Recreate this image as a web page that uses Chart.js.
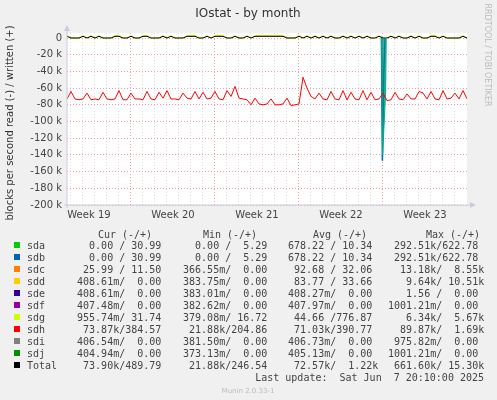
<!DOCTYPE html>
<html><head><meta charset="utf-8">
<script src="https://cdn.jsdelivr.net/npm/chart.js@4"></script>
<style>body{margin:0;background:#f0f0f0}#c{display:block}</style>
</head><body>
<div style="width:497px;height:400px"><canvas id="c"></canvas></div>
<script>
// sdh read (k), 3 samples per day starting at day 0
const sdhRead = [
 -73,-64,-73, -74,-73,-66, -74,-73,-74, -65,-73,-74, -73,-63,-74, -74,-66,-73,
 -73,-74,-64, -73,-74,-65, -72,-63,-73, -73,-74,-66, -72,-73,-64, -73,-65,-73,
 -72,-64,-73, -74,-63,-70, -58,-72,-73, -74,-80,-72, -79,-80,-79, -73,-80,-80,
 -79,-72,-81, -80,-79,-47, -60,-70,-73, -66,-73,-74, -64,-73,-74, -63,-74,-65,
 -73,-74,-63, -74,-65,-74, -73,-66,-75, -74,-65,-73, -74,-67,-73, -73,-64,-66,
 -73,-64,-73, -74,-63,-73, -72,-66,-73, -63,-73,-72, -64,-73,-74, -65,-73,-74,
 -63,-74,-73, -74
];
// total written (k)
const totalWritten = [
 2,0,0, 0,2,0, 2,0,2, 0,0,0, 2,2,0, 0,2,0, 0,2,2, 0,0,0, 2,0,2, 0,0,0,
 2,2,2, 0,0,2, 0,2,2, 2,0,0, 2,0,0, 2,0,2, 2,2,2, 2,2,2, 2,0,0, 0,2,0,
 2,0,2, 0,2,0, 2,0,0, 2,0,2, 0,2,0, 2,0,0, 2,0,0, 2,0,2, 0,0,2, 0,2,0,
 0,2,2, 0,2,0, 0,0,0, 2,0,2, 2,0,2, 0,2,0, 2,0,2, 2
];
const sdbSpikeX = [26.2, 26.28, 26.4, 26.5];
const sdbSpikeY = [0, -147, -40, 0];
const sdaSpikeX = [26.2, 26.3, 26.55, 26.6];
const sdaSpikeY = [0, -140, -65, 0];
const weekNames = ['Week 19','Week 20','Week 21','Week 22','Week 23'];
const weekStarts = [5.33,12.33,19.33,26.33];
const legendNames = ['sda','sdb','sdc','sdd','sde','sdf','sdg','sdh','sdi','sdj','Total'];
const legendColors = ['#00cc00','#0066b3','#ff8000','#ffcc00','#330099','#990099','#ccff00','#ff0000','#808080','#008f00','#000000'];
const legendCur = ['    0.00 / 30.99','    0.00 / 30.99','   25.99 / 11.50','  408.61m/  0.00','  408.61m/  0.00','  407.48m/  0.00','  955.74m/ 31.74','   73.87k/384.57','  406.54m/  0.00','  404.94m/  0.00','   73.90k/489.79'];
const legendMin = ['    0.00 /  5.29','    0.00 /  5.29','  366.55m/  0.00','  383.75m/  0.00','  383.01m/  0.00','  382.62m/  0.00','  379.08m/ 16.72','   21.88k/204.86','  381.50m/  0.00','  373.13m/  0.00','   21.88k/246.54'];
const legendAvg = ['  678.22 / 10.34','  678.22 / 10.34','   92.68 / 32.06','   83.77 / 33.66','  408.27m/  0.00','  407.97m/  0.00','   44.66 /776.87','   71.03k/390.77','  406.73m/  0.00','  405.13m/  0.00','   72.57k/  1.22k'];
const legendMax = ['  292.51k/622.78','  292.51k/622.78','   13.18k/  8.55k','    9.64k/ 10.51k','    1.56 /  0.00',' 1001.21m/  0.00','    6.34k/  5.67k','   89.87k/  1.69k','  975.82m/  0.00',' 1001.21m/  0.00','  661.60k/ 15.30k'];

const pts = a => a.map((v, i) => ({x: i / 3, y: v * 1000}));
const xy = (xs, ys) => xs.map((x, i) => ({x: x, y: ys[i] * 1000}));
const xTicks = [];
for (let d = 0.33; d < 33.3; d += 1) xTicks.push({value: d, kind: weekStarts.some(w => Math.abs(w - d) < 0.01) ? 'week' : 'day'});
weekStarts.concat([33.33]).forEach((w, i) => xTicks.push({value: w - 3.5, kind: 'label', label: weekNames[i]}));
xTicks.sort((a, b) => a.value - b.value);

const mono = '10px "DejaVu Sans Mono"';
const decor = {
  id: 'decor',
  beforeDraw(c) {
    const g = c.ctx, a = c.chartArea;
    g.save(); g.fillStyle = '#f0f0f0'; g.fillRect(0, 0, c.width, c.height);
    g.fillStyle = '#fff'; g.fillRect(a.left, a.top, a.right - a.left, a.bottom - a.top); g.restore();
  },
  afterDraw(c) {
    const g = c.ctx, a = c.chartArea;
    g.save();
    g.fillStyle = '#333'; g.font = '12px "DejaVu Sans"'; g.textAlign = 'center';
    g.fillText('IOstat - by month', 248, 17);
    g.save(); g.translate(13, 123); g.rotate(-Math.PI / 2); g.font = '10px "DejaVu Sans"';
    g.fillText('blocks per second read (-) / written (+)', 0, 0); g.restore();
    g.save(); g.translate(485, 55); g.rotate(Math.PI / 2); g.fillStyle = '#bbb'; g.font = '8px "DejaVu Sans"';
    g.fillText('RRDTOOL / TOBI OETIKER', 0, 0); g.restore();
    // axis lines + arrows
    g.strokeStyle = '#ccd'; g.fillStyle = '#ccd'; g.lineWidth = 1;
    g.beginPath(); g.moveTo(a.left, a.bottom + 3); g.lineTo(a.left, a.top - 3); g.moveTo(a.left - 3, a.bottom); g.lineTo(a.right + 3, a.bottom); g.stroke();
    g.beginPath(); g.moveTo(a.left - 3, a.top - 2); g.lineTo(a.left + 3, a.top - 2); g.lineTo(a.left, a.top - 8); g.fill();
    g.beginPath(); g.moveTo(a.right + 3, a.bottom - 3); g.lineTo(a.right + 3, a.bottom + 3); g.lineTo(a.right + 9, a.bottom); g.fill();
    // legend
    g.font = mono; g.textAlign = 'center'; g.fillStyle = '#444';
    [['Cur (-/+)', 125], ['Min (-/+)', 230], ['Avg (-/+)', 340], ['Max (-/+)', 453]].forEach(h => g.fillText(h[0], h[1], 238));
    g.textAlign = 'left';
    legendNames.forEach((n, i) => {
      const y = 249 + i * 12;
      g.fillStyle = legendColors[i]; g.fillRect(14, y - 7, 6, 6);
      g.fillStyle = '#444';
      g.fillText(n, 27, y);
      g.fillText(legendCur[i], 65, y);
      g.fillText(legendMin[i], 171, y);
      g.fillText(legendAvg[i], 276, y);
      g.fillText(legendMax[i], 382, y);
    });
    g.textAlign = 'right';
    g.fillText('Last update:  Sat Jun  7 20:10:00 2025', 484, 381);
    g.textAlign = 'center'; g.fillStyle = '#bbb'; g.font = '7px "DejaVu Sans"';
    g.fillText('Munin 2.0.33-1', 248, 393);
    g.restore();
  }
};

new Chart(document.getElementById('c'), {
  type: 'line',
  data: { datasets: [
    {data: pts(sdhRead), borderColor: '#ff0000', borderWidth: 1},
    {data: xy(sdaSpikeX, sdaSpikeY), borderColor: '#00aa88', backgroundColor: 'rgba(0,140,130,0.75)', fill: 'origin', borderWidth: 1},
    {data: xy(sdbSpikeX, sdbSpikeY), borderColor: '#0066b3', borderWidth: 1.5},
    {data: pts(totalWritten), borderColor: '#000', borderWidth: 1},
    {data: pts(totalWritten.map(v => v ? v + 1 : 0)), borderColor: '#ccff00', borderWidth: 1}
  ]},
  plugins: [decor],
  options: {
    animation: false, responsive: true, maintainAspectRatio: false,
    layout: {padding: {top: 33, right: 30, bottom: 175, left: 0}},
    elements: {point: {radius: 0}, line: {tension: 0}},
    plugins: {legend: {display: false}, tooltip: {enabled: false}},
    scales: {
      x: {
        type: 'linear', min: 0, max: 33.33,
        afterBuildTicks: s => { s.ticks = xTicks.map(t => ({value: t.value})); },
        grid: {color: ctx => { const t = xTicks[ctx.index]; return !t ? 'transparent' : t.kind === 'week' ? '#f0a0a0' : t.kind === 'day' ? '#ddd' : 'transparent'; }, drawTicks: false},
        border: {display: false, dash: [1, 2]},
        ticks: {autoSkip: false, maxRotation: 0, color: '#444', font: {family: 'DejaVu Sans', size: 10}, padding: 4,
          callback: (v, i) => xTicks[i] && xTicks[i].label ? xTicks[i].label : ''}
      },
      y: {
        min: -200000, max: 6000,
        afterBuildTicks: s => { const t = []; for (let v = -200000; v <= 0; v += 10000) t.push({value: v}); s.ticks = t; },
        grid: {color: ctx => ctx.tick && ctx.tick.value % 20000 === 0 ? '#f0a0a0' : '#ddd', drawTicks: false},
        border: {display: false, dash: [1, 2]},
        afterFit: s => { s.width = 67; },
        ticks: {color: '#444', font: {family: 'DejaVu Sans', size: 10}, padding: 5,
          callback: v => v % 20000 !== 0 ? '' : v === 0 ? '0' : (v / 1000) + ' k'}
      }
    }
  }
});
</script>
</body></html>
